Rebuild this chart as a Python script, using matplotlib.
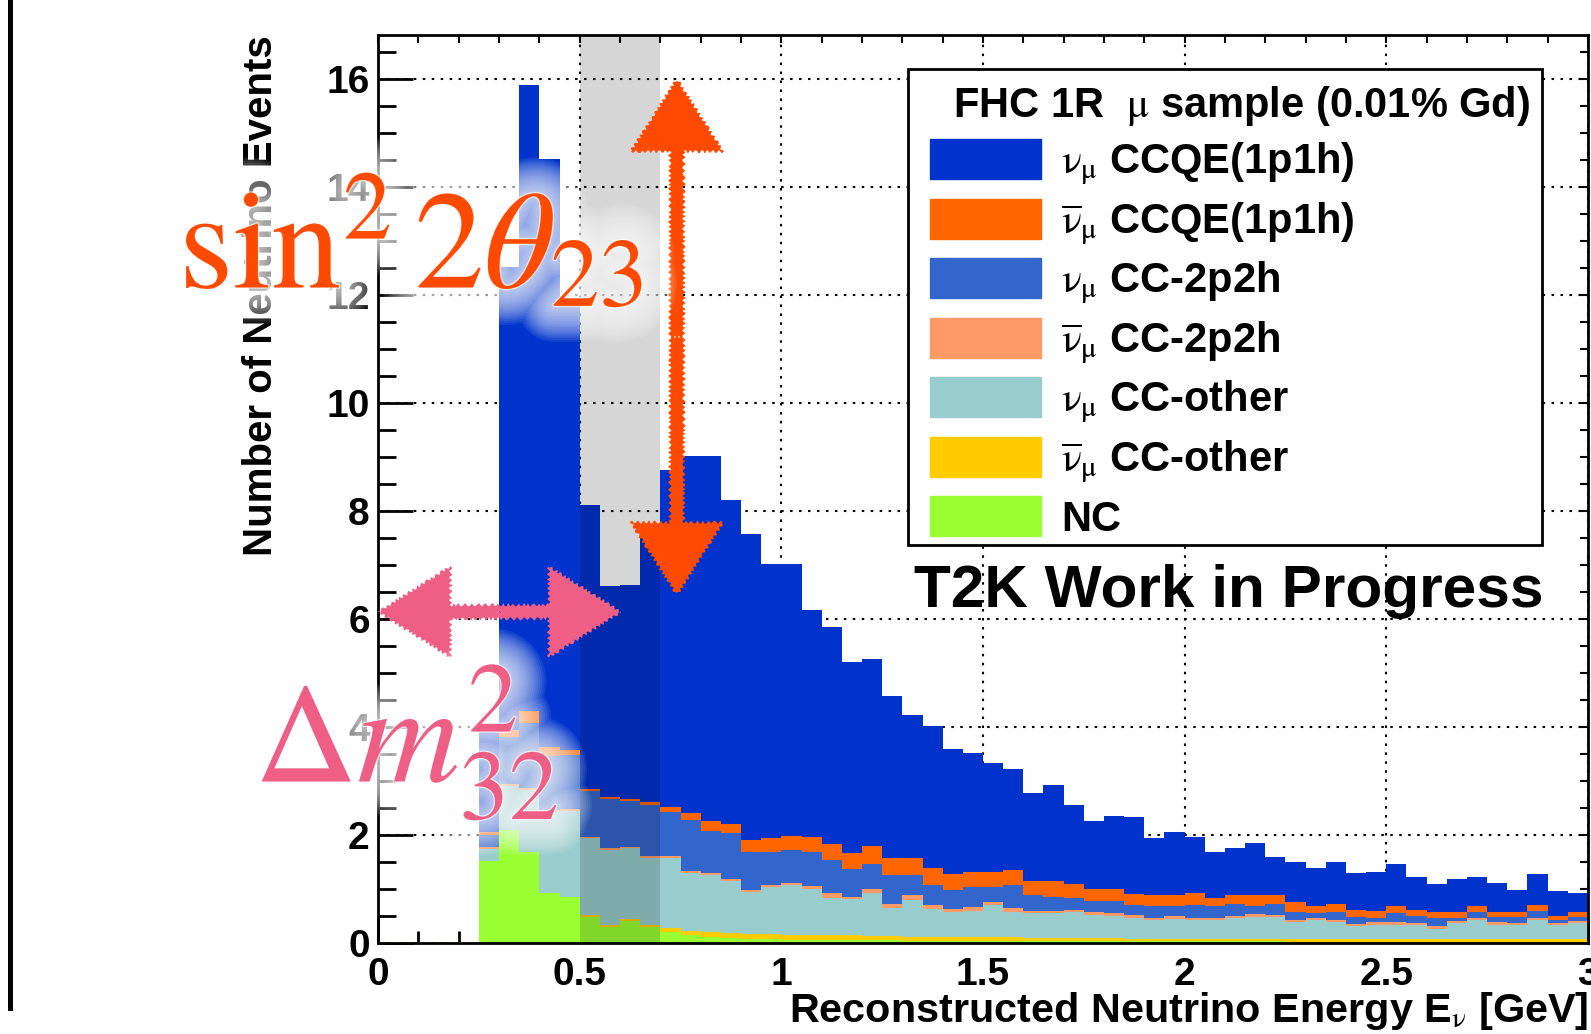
import numpy as np
import matplotlib
matplotlib.use("Agg")
import matplotlib.pyplot as plt
import matplotlib.patheffects as pe
from matplotlib.lines import Line2D
from matplotlib.patches import Patch, Rectangle
from matplotlib.ticker import MultipleLocator, FixedLocator, FixedFormatter

plt.rcParams["font.family"] = ["Liberation Sans", "DejaVu Sans"]
plt.rcParams["mathtext.fontset"] = "stix"

# reconstructed energy binning, 0.05 GeV bins
bin_width = 0.05
n_bins = 60

# events per bin (bottom of stack first)
nc = [0.02, 0.02, 0.02, 0.02, 0.02, 1.51, 2.09, 1.68, 0.92, 0.85,
      0.49, 0.30, 0.41, 0.30, 0.21, 0.15, 0.12, 0.10, 0.08, 0.07,
      0.06, 0.06, 0.05, 0.05, 0.05, 0.05, 0.04, 0.04, 0.04, 0.04,
      0.04, 0.04, 0.04, 0.04, 0.03, 0.03, 0.03, 0.03, 0.03, 0.03,
      0.03, 0.03, 0.03, 0.03, 0.03, 0.02, 0.02, 0.02, 0.02, 0.02,
      0.02, 0.02, 0.02, 0.02, 0.02, 0.02, 0.02, 0.02, 0.02, 0.02]
nubar_ccother = [0, 0, 0, 0, 0, 0, 0, 0, 0, 0.01,
                 0.03, 0.03, 0.03, 0.04, 0.06, 0.07, 0.08, 0.08, 0.09, 0.09,
                 0.09, 0.09, 0.09, 0.09, 0.08, 0.08, 0.08, 0.07, 0.07, 0.07,
                 0.07, 0.07, 0.06, 0.06, 0.06, 0.06, 0.06, 0.05, 0.05, 0.05,
                 0.05, 0.05, 0.05, 0.05, 0.05, 0.05, 0.05, 0.05, 0.05, 0.05,
                 0.05, 0.05, 0.05, 0.05, 0.05, 0.05, 0.05, 0.05, 0.05, 0.05]
nu_ccother = [0, 0, 0, 0, 0, 0.23, 0.81, 1.15, 1.51, 1.58,
              1.42, 1.40, 1.31, 1.23, 1.30, 1.08, 1.06, 0.97, 0.77, 0.87,
              0.93, 0.85, 0.70, 0.68, 0.79, 0.52, 0.67, 0.52, 0.46, 0.49,
              0.59, 0.47, 0.46, 0.46, 0.48, 0.43, 0.41, 0.39, 0.35, 0.37,
              0.34, 0.34, 0.38, 0.41, 0.40, 0.31, 0.35, 0.32, 0.25, 0.27,
              0.27, 0.26, 0.19, 0.30, 0.36, 0.27, 0.26, 0.36, 0.26, 0.30]
nubar_2p2h = [0, 0, 0, 0, 0, 0.04, 0.05, 0.04, 0.04, 0.04,
              0.03, 0.03, 0.03, 0.04, 0.04, 0.04, 0.04, 0.04, 0.04, 0.05,
              0.03, 0.05, 0.08, 0.04, 0.08, 0.08, 0.09, 0.07, 0.06, 0.06,
              0.06, 0.07, 0.04, 0.04, 0.04, 0.05, 0.06, 0.05, 0.04, 0.05,
              0.04, 0.04, 0.04, 0.05, 0.04, 0.04, 0.04, 0.04, 0.04, 0.04,
              0.04, 0.04, 0.05, 0.04, 0.04, 0.04, 0.04, 0.04, 0.04, 0.04]
nu_2p2h = [0, 0, 0, 0, 0, 0.22, 0.86, 1.20, 1.00, 1.00,
           0.85, 0.91, 0.85, 0.95, 0.82, 0.94, 0.78, 0.84, 0.71, 0.61,
           0.61, 0.64, 0.61, 0.51, 0.46, 0.53, 0.38, 0.38, 0.35, 0.37,
           0.27, 0.43, 0.29, 0.26, 0.23, 0.20, 0.21, 0.18, 0.21, 0.18,
           0.25, 0.22, 0.23, 0.15, 0.21, 0.16, 0.09, 0.15, 0.12, 0.08,
           0.17, 0.13, 0.15, 0.05, 0.11, 0.11, 0.11, 0.13, 0.06, 0.08]
nubar_ccqe = [0, 0, 0, 0, 0, 0.06, 0.13, 0.23, 0.15, 0.10,
              0.04, 0.04, 0.04, 0.05, 0.08, 0.12, 0.17, 0.17, 0.22, 0.25,
              0.27, 0.27, 0.30, 0.30, 0.34, 0.32, 0.32, 0.31, 0.30, 0.29,
              0.29, 0.27, 0.25, 0.28, 0.25, 0.23, 0.23, 0.20, 0.21, 0.21,
              0.21, 0.16, 0.16, 0.19, 0.16, 0.17, 0.13, 0.15, 0.14, 0.14,
              0.13, 0.12, 0.11, 0.11, 0.10, 0.09, 0.09, 0.10, 0.07, 0.09]
nu_ccqe = [0, 0, 0, 0, 0, 1.85, 8.58, 11.59, 10.89, 8.32,
           5.25, 3.90, 3.95, 4.89, 6.24, 6.62, 6.77, 6.01, 5.67, 5.08,
           5.03, 4.21, 4.02, 3.54, 3.45, 3.00, 2.65, 2.63, 2.32, 2.19,
           2.02, 1.88, 1.63, 1.78, 1.46, 1.26, 1.36, 1.43, 1.05, 1.17,
           1.05, 0.85, 0.86, 0.98, 0.70, 0.75, 0.70, 0.77, 0.67, 0.71,
           0.79, 0.61, 0.53, 0.62, 0.55, 0.53, 0.41, 0.57, 0.47, 0.34]

NU = r"$\mathrm{\nu}_{\mathrm{\mu}}$"
NUBAR = r"$\overline{\mathrm{\nu}}_{\mathrm{\mu}}$"
labels = ["NC",
          NUBAR + " CC-other",
          NU + " CC-other",
          NUBAR + " CC-2p2h",
          NU + " CC-2p2h",
          NUBAR + " CCQE(1p1h)",
          NU + " CCQE(1p1h)"]
colors = ["#99ff33", "#ffcc00", "#99cccc", "#ff9966", "#3366cc", "#ff6600", "#0033cc"]
series = [nc, nubar_ccother, nu_ccother, nubar_2p2h, nu_2p2h, nubar_ccqe, nu_ccqe]

xtick_vals = [0, 0.5, 1, 1.5, 2, 2.5, 3]
xtick_labels = ["0", "0.5", "1", "1.5", "2", "2.5", "3"]
ytick_vals = [0, 2, 4, 6, 8, 10, 12, 14, 16]

# oscillation dip region and annotation arrows (GeV / events)
band = (0.5, 0.7)
theta_arrow = (0.741, 6.44, 16.0)   # x, y_low, y_high
dm_arrow = (6.13, 0.0, 0.603)       # y, x_low, x_high

fig = plt.figure(figsize=(15.91, 10.34), dpi=100)
ax = fig.add_axes([0.2376, 0.0880, 0.7605, 0.8777])

edges = np.arange(n_bins + 1) * bin_width
bottom = np.zeros(n_bins)
handles = []
for vals, col in zip(series, colors):
    top = bottom + np.asarray(vals)
    ax.stairs(top, edges, baseline=bottom, fill=True, color=col, lw=0, zorder=2)
    handles.append(Patch(facecolor=col, edgecolor=col))
    bottom = top

ax.axvspan(*band, color="black", alpha=0.16, lw=0, zorder=3)

ax.set_xlim(0, 3)
ax.set_ylim(0, 16.8)
ax.xaxis.set_major_locator(FixedLocator(xtick_vals))
ax.xaxis.set_major_formatter(FixedFormatter(xtick_labels))
ax.xaxis.set_minor_locator(MultipleLocator(0.1))
ax.yaxis.set_major_locator(FixedLocator(ytick_vals))
ax.yaxis.set_minor_locator(MultipleLocator(0.5))
ax.tick_params(axis="both", which="both", direction="in", width=2, labelsize=28)
ax.tick_params(axis="x", which="major", length=18, pad=10)
ax.tick_params(axis="x", which="minor", length=9)
ax.tick_params(axis="y", which="major", length=25, pad=6)
ax.tick_params(axis="y", which="minor", length=13)
for lab in ax.get_xticklabels() + ax.get_yticklabels():
    lab.set_fontweight("bold")
for sp in ax.spines.values():
    sp.set_linewidth(2)

sec_x = ax.secondary_xaxis("top")
sec_x.xaxis.set_major_locator(MultipleLocator(0.5))
sec_x.xaxis.set_minor_locator(MultipleLocator(0.1))
sec_x.tick_params(which="both", direction="in", length=6, width=1.5, labeltop=False)
sec_y = ax.secondary_yaxis("right")
sec_y.yaxis.set_major_locator(MultipleLocator(2))
sec_y.yaxis.set_minor_locator(MultipleLocator(0.5))
sec_y.tick_params(which="both", direction="in", length=6, width=1.5, labelright=False)

ax.set_axisbelow(True)
ax.grid(True, which="major", color="black", lw=1.5, linestyle=(0, (1.2, 3.1)))

ax.set_xlabel(r"Reconstructed Neutrino Energy E$_{\mathrm{\nu}}$ [GeV]", fontsize=29.8,
              fontweight="bold", loc="right")
ax.xaxis.set_label_coords(1.0, -0.052)
ax.set_ylabel("Number of Neutrino Events", fontsize=29, fontweight="bold", loc="top")
ax.yaxis.set_label_coords(-0.081, 1.0)

# legend: frame drawn separately so its size matches the original box
ax.add_patch(Rectangle((0.438, 0.4386), 0.524, 0.5245, transform=ax.transAxes,
                       facecolor="white", edgecolor="black", lw=2, zorder=4))
leg = ax.legend(handles[::-1], labels[::-1], loc="upper left",
                bbox_to_anchor=(0.444, 0.963), frameon=False,
                title="  FHC 1R  " + r"$\mathrm{\mu}$" + " sample (0.01% Gd)",
                prop=dict(size=30, weight="bold"),
                title_fontproperties=dict(size=30, weight="bold"),
                handlelength=2.66, handleheight=1.1, handletextpad=0.5,
                labelspacing=0.28, borderpad=0.35, borderaxespad=0,
                alignment="left")
leg.set_zorder(5)

fig.text(0.5745, 0.413, "T2K Work in Progress", fontsize=43.5, fontweight="bold",
         ha="left", va="baseline")

# hand-drawn style arrows
orange = "#ff4a00"
pink = "#ee5e85"
ax_x, y_lo, y_hi = theta_arrow
y_mid = (y_lo + y_hi) / 2
for y_end in (y_hi, y_lo):
    a = ax.arrow(ax_x, y_mid, 0, y_end - y_mid, width=0.035, head_width=0.23,
                 head_length=1.35, length_includes_head=True, color=orange,
                 lw=0, zorder=6, clip_on=False)
    a.set_sketch_params(1.5, 6, 2)
ay, x_lo, x_hi = dm_arrow
x_mid = (x_lo + x_hi) / 2
for x_end in (x_lo, x_hi):
    a = ax.arrow(x_mid, ay, x_end - x_mid, 0, width=0.26, head_width=1.69,
                 head_length=0.18, length_includes_head=True, color=pink,
                 lw=0, zorder=6, clip_on=False)
    a.set_sketch_params(1.5, 6, 2)

# soft white glow behind the parameter labels
glow = [pe.Stroke(linewidth=w, foreground="white", alpha=0.075)
        for w in np.linspace(52, 4, 17)]
glow += [pe.Stroke(linewidth=2, foreground="white", alpha=0.6), pe.Normal()]
fig.text(179 / 1591, 1 - 288 / 1034, r"$\sin^{2}2\theta_{23}$", fontsize=100,
         color=orange, ha="left", va="baseline", path_effects=glow, zorder=10)
fig.text(255 / 1591, 1 - 782 / 1034, r"$\Delta m^{2}_{32}$", fontsize=102,
         color=pink, ha="left", va="baseline", path_effects=glow, zorder=10)

# slide border line on the far left
fig.add_artist(Line2D([10 / 1591, 10 / 1591], [1.0, 1 - 1008 / 1034],
                      color="black", lw=3.6))

fig.savefig("out.png", dpi=100)
